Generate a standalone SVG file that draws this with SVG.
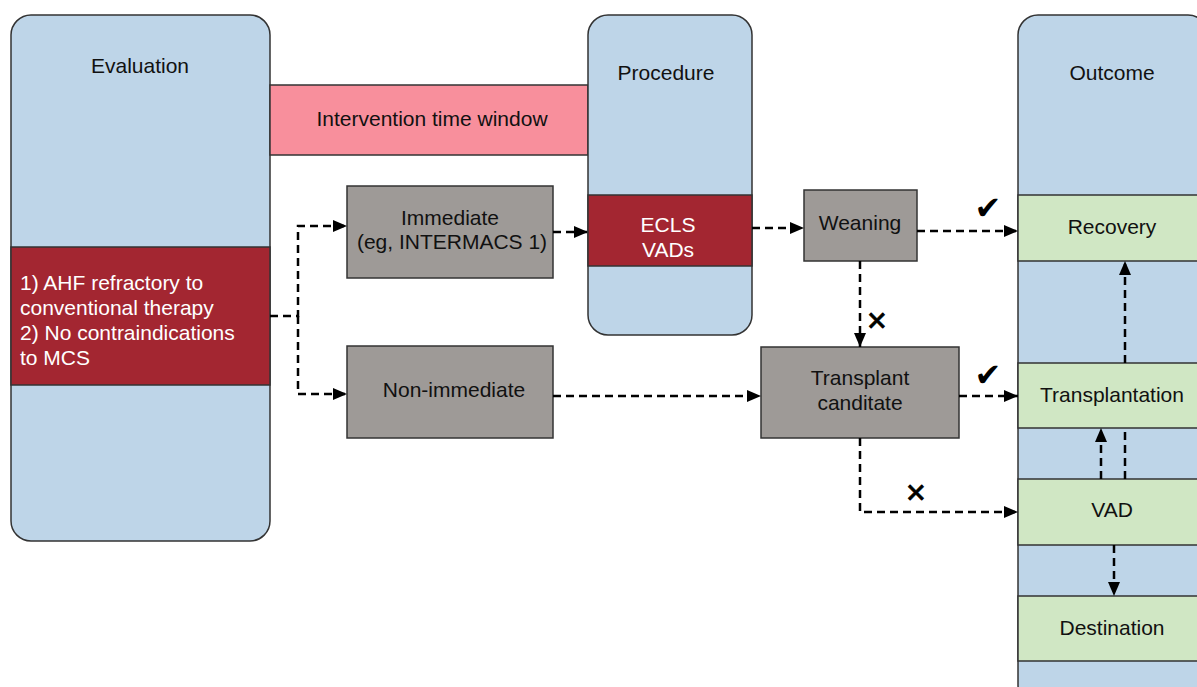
<svg xmlns="http://www.w3.org/2000/svg" width="1197" height="687" viewBox="0 0 1197 687">
<defs>
<style>
.col{fill:#bed5e8;stroke:#333;stroke-width:1.5}
.red{fill:#a32631;stroke:#333;stroke-width:1.5}
.pink{fill:#f88f9c;stroke:#333;stroke-width:1.5}
.gray{fill:#9e9a97;stroke:#333;stroke-width:1.5}
.green{fill:#d0e7c4;stroke:#333;stroke-width:1.5}
text{font-family:"Liberation Sans",Arial,sans-serif;font-size:21px;fill:#111}
.c{text-anchor:middle}
.w{fill:#fff}
.con{fill:none;stroke:#000;stroke-width:2.5;stroke-dasharray:8 5}
.mk{font-family:"DejaVu Sans",sans-serif;font-size:32px;fill:#000;text-anchor:middle}
.mx{font-family:"DejaVu Sans",sans-serif;font-size:26px;fill:#000;text-anchor:middle;stroke:#000;stroke-width:0.8}
</style>
<marker id="ah" viewBox="0 0 14 12" refX="14" refY="6" markerWidth="14" markerHeight="12" markerUnits="userSpaceOnUse" orient="auto">
<path d="M0,0 L14,6 L0,12 Z" fill="#000"/>
</marker>
</defs>
<rect width="1197" height="687" fill="#fff"/>

<g id="evaluation">
<rect class="col" x="11" y="15" width="259" height="526" rx="20"/>
<text class="c" x="140" y="73">Evaluation</text>
</g>
<g id="criteria">
<rect class="red" x="11" y="247" width="259" height="138"/>
<text class="w" x="20" y="290">1) AHF refractory to</text>
<text class="w" x="20" y="315">conventional therapy</text>
<text class="w" x="20" y="340">2) No contraindications</text>
<text class="w" x="20" y="365">to MCS</text>
</g>
<g id="window">
<rect class="pink" x="270" y="85" width="318" height="70"/>
<text class="c" x="432" y="126">Intervention time window</text>
</g>
<g id="procedure">
<rect class="col" x="588" y="15" width="164" height="320" rx="20"/>
<text class="c" x="666" y="80">Procedure</text>
</g>
<g id="ecls">
<rect class="red" x="588" y="195" width="164" height="71"/>
<text class="c w" x="668" y="232">ECLS</text>
<text class="c w" x="668" y="257">VADs</text>
</g>
<g id="outcome">
<rect class="col" x="1018" y="15" width="190" height="690" rx="20"/>
<text class="c" x="1112" y="80">Outcome</text>
</g>
<g id="immediate">
<rect class="gray" x="347" y="186" width="206" height="92"/>
<text class="c" x="450" y="225">Immediate</text>
<text class="c" x="452" y="249">(eg, INTERMACS 1)</text>
</g>
<g id="nonimmediate">
<rect class="gray" x="347" y="346" width="206" height="92"/>
<text class="c" x="454" y="397">Non-immediate</text>
</g>
<g id="weaning">
<rect class="gray" x="804" y="190" width="113" height="71"/>
<text class="c" x="860" y="230">Weaning</text>
</g>
<g id="transplantcand">
<rect class="gray" x="761" y="347" width="198" height="91"/>
<text class="c" x="860" y="385">Transplant</text>
<text class="c" x="860" y="410">canditate</text>
</g>
<g id="recovery">
<rect class="green" x="1018" y="195" width="190" height="66"/>
<text class="c" x="1112" y="234">Recovery</text>
</g>
<g id="transplantation">
<rect class="green" x="1018" y="363" width="190" height="65"/>
<text class="c" x="1112" y="402">Transplantation</text>
</g>
<g id="vad">
<rect class="green" x="1018" y="479" width="190" height="66"/>
<text class="c" x="1112" y="517">VAD</text>
</g>
<g id="destination">
<rect class="green" x="1018" y="596" width="190" height="65"/>
<text class="c" x="1112" y="635">Destination</text>
</g>

<g id="connectors">
<path class="con" d="M270,316 H298 V226 H347" marker-end="url(#ah)"/>
<path class="con" d="M298,316 V394 H347" marker-end="url(#ah)"/>
<path class="con" d="M553,232 H588" marker-end="url(#ah)"/>
<path class="con" d="M752,228 H804" marker-end="url(#ah)"/>
<path class="con" d="M917,231 H1018" marker-end="url(#ah)"/>
<path class="con" d="M860,261 V347" marker-end="url(#ah)"/>
<path class="con" d="M553,396 H761" marker-end="url(#ah)"/>
<path class="con" d="M959,396 H1018" marker-end="url(#ah)"/>
<path class="con" d="M860,438 V512 H1018" marker-end="url(#ah)"/>
<path class="con" d="M1125,363 V261" marker-end="url(#ah)"/>
<path class="con" d="M1125,479 V432"/>
<path class="con" d="M1101,479 V428" marker-end="url(#ah)"/>
<path class="con" d="M1114,545 V596" marker-end="url(#ah)"/>
<text class="mk" x="988" y="219">✔</text>
<text class="mk" x="988" y="386">✔</text>
<text class="mx" x="877" y="330">✕</text>
<text class="mx" x="916" y="502">✕</text>
</g>
</svg>
